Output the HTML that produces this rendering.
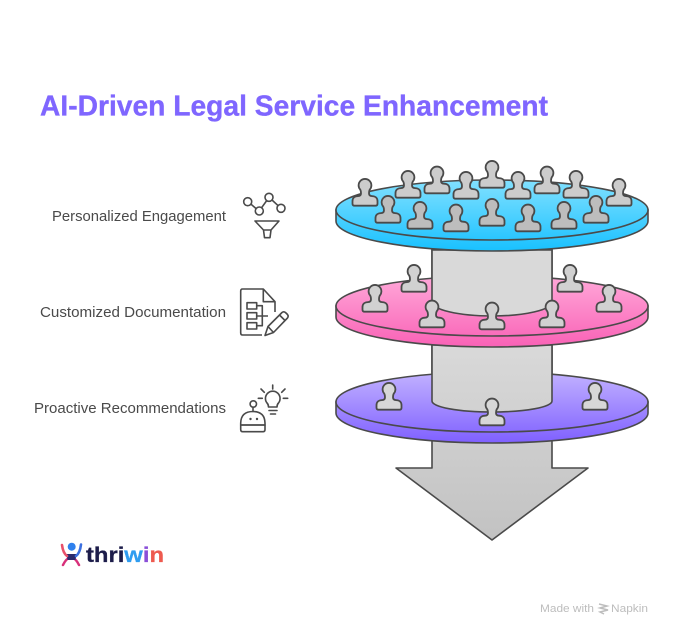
<!DOCTYPE html>
<html><head><meta charset="utf-8"><style>
html,body{margin:0;padding:0;background:#fff}
svg{display:block}
text{font-family:"Liberation Sans",sans-serif}
</style></head><body>
<svg width="673" height="636" viewBox="0 0 673 636" xmlns="http://www.w3.org/2000/svg">
<defs>
<linearGradient id="blue" gradientUnits="userSpaceOnUse" x1="0" y1="181" x2="0" y2="251"><stop offset="0" stop-color="#80e0ff"/><stop offset="1" stop-color="#19c1ff"/></linearGradient>
<linearGradient id="pink" gradientUnits="userSpaceOnUse" x1="0" y1="276" x2="0" y2="347"><stop offset="0" stop-color="#ffa8d9"/><stop offset="1" stop-color="#f962b6"/></linearGradient>
<linearGradient id="purple" gradientUnits="userSpaceOnUse" x1="0" y1="372" x2="0" y2="443"><stop offset="0" stop-color="#c2b2ff"/><stop offset="1" stop-color="#7f60ff"/></linearGradient>
<linearGradient id="grey" gradientUnits="userSpaceOnUse" x1="0" y1="345" x2="0" y2="540"><stop offset="0" stop-color="#d9d9d9"/><stop offset="1" stop-color="#c2c2c2"/></linearGradient>
<path id="p" d="M-10.5 0H10.5Q12.5 0 12.5-2V-4.5C12.5-8 10-9.6 7-9.6C5-9.6 4-10.6 4-12.4Q4-14.6 4.7-16A6.4 6.4 0 1 0-4.7-16Q-4-14.6-4-12.4C-4-10.6-5-9.6-7-9.6C-10-9.6-12.5-8-12.5-4.5V-2Q-12.5 0-10.5 0Z"/>
</defs>

<text x="40" y="115.5" font-size="29" font-weight="700" fill="#7f66ff" stroke="#7f66ff" stroke-width="0.35" textLength="508" lengthAdjust="spacingAndGlyphs">AI-Driven Legal Service Enhancement</text>

<g font-size="14.5" fill="#4a4a4a">
<text x="52" y="221" textLength="174" lengthAdjust="spacingAndGlyphs">Personalized Engagement</text>
<text x="40" y="317" textLength="186" lengthAdjust="spacingAndGlyphs">Customized Documentation</text>
<text x="34" y="413" textLength="192" lengthAdjust="spacingAndGlyphs">Proactive Recommendations</text>
</g>

<!-- arrow shaft and head -->
<path d="M432 240V468H396L492 540L588 468H552V240Z" fill="url(#grey)" stroke="#4a4a4a" stroke-width="1.6" stroke-linejoin="round"/>

<g stroke="#4a4a4a" stroke-width="1.6">
<!-- purple disk -->
<path d="M336 402V413A156 30 0 0 0 648 413V402Z" fill="url(#purple)"/>
<ellipse cx="492" cy="402" rx="156" ry="30" fill="url(#purple)"/>
<path d="M432 345V401A60 11 0 0 0 552 401V345Z" fill="url(#grey)"/>
<!-- pink disk -->
<path d="M336 306V317A156 30 0 0 0 648 317V306Z" fill="url(#pink)"/>
<ellipse cx="492" cy="306" rx="156" ry="30" fill="url(#pink)"/>
<path d="M432 250V302A60 14 0 0 0 552 302V250Z" fill="#d9d9d9"/>
<!-- blue disk -->
<path d="M336 210V221A156 30 0 0 0 648 221V210Z" fill="url(#blue)"/>
<ellipse cx="492" cy="210" rx="156" ry="30" fill="url(#blue)"/>
</g>

<!-- people -->
<g stroke="#4a4a4a" stroke-width="1.8" stroke-linejoin="round">
<g fill="#cccccc">
<use href="#p" x="365" y="205.7"/><use href="#p" x="408" y="197.7"/><use href="#p" x="437" y="193.3"/><use href="#p" x="466" y="198.7"/><use href="#p" x="492" y="187.7"/><use href="#p" x="518" y="198.7"/><use href="#p" x="547" y="193.3"/><use href="#p" x="576" y="197.7"/><use href="#p" x="619" y="205.7"/>
</g>
<g fill="#bdbdbd">
<use href="#p" x="388" y="222.7"/><use href="#p" x="420" y="228.7"/><use href="#p" x="456" y="231.3"/><use href="#p" x="492" y="225.7"/><use href="#p" x="528" y="231.3"/><use href="#p" x="564" y="228.7"/><use href="#p" x="596" y="222.7"/>
</g>
<g fill="#d1d1d1">
<use href="#p" x="375" y="311.7"/><use href="#p" x="414" y="291.7"/><use href="#p" x="432" y="327.3"/><use href="#p" x="492" y="329.3"/><use href="#p" x="552" y="327.3"/><use href="#p" x="570" y="291.7"/><use href="#p" x="609" y="311.7"/>
</g>
<g fill="#d7d7d7">
<use href="#p" x="389" y="409.7"/><use href="#p" x="492" y="425.3"/><use href="#p" x="595" y="409.7"/>
</g>
</g>

<!-- icon 1 -->
<g fill="none" stroke="#4a4a4a" stroke-width="1.6" stroke-linejoin="round">
<circle cx="247.7" cy="201.7" r="4"/><circle cx="259.3" cy="211" r="4"/><circle cx="269" cy="197.3" r="4"/><circle cx="281" cy="208.3" r="4"/>
<path d="M251 204.2L256 208.5M261.6 207.7L266.7 200.6M272 200L278 205.6"/>
<path d="M255 221H279L271 230L270 237.7H264.5L263.5 230ZM263.5 230H271"/>
</g>
<!-- icon 2 -->
<g fill="none" stroke="#4a4a4a" stroke-width="1.6" stroke-linejoin="round">
<path d="M262 335H242.5Q240.7 335 240.7 333V291Q240.7 289 242.5 289H263.3L275 301.7V312"/>
<path d="M263.3 289V301.7H275"/>
<rect x="247" y="302.7" width="9.7" height="6.3"/><rect x="247" y="312.7" width="9.7" height="6.3"/><rect x="247" y="322.7" width="9.7" height="6.3"/>
<path d="M256.7 305.7H262.3V325.7H256.7M256.7 316H268"/>
<path d="M265 335.5L268 326.5L282 312.5Q284 311 286 313L287.5 314.5Q289 316.5 287 318.5L273.5 332.5ZM268 326.5L273.5 332.5M279.5 315L285 320.5"/>
</g>
<!-- icon 3 -->
<g fill="none" stroke="#4a4a4a" stroke-width="1.6" stroke-linejoin="round" stroke-linecap="round">
<path d="M268.5 407Q268.5 404.5 267 403A7.3 7.3 0 1 1 278.5 403Q277 404.5 277 407Z"/>
<path d="M269 410.5H277M270.5 414H275.5M272.7 385V389M261 389L264.3 392.3M285 389L281.7 392.3M258.3 398.3H262.3M283.3 398.3H287.7"/>
<circle cx="253.3" cy="404" r="3.2"/>
<path d="M253 407.2V411.5"/>
<path d="M240.7 425V423Q241 411.5 253 411.5Q264.7 411.5 265 423V425Z"/>
<path d="M240.7 425H265V429.5Q265 431.7 263 431.7H242.7Q240.7 431.7 240.7 429.5Z"/>
</g>
<circle cx="250.5" cy="419" r="1.2" fill="#4a4a4a"/><circle cx="257" cy="419" r="1.2" fill="#4a4a4a"/>

<!-- logo -->
<path d="M63 565Q66 559 69 558M79 565Q76 559 73 558" fill="none" stroke="#d8307a" stroke-width="2.5" stroke-linecap="round"/>
<path d="M66.5 554H76.5L75.5 560H67.5Z" fill="#2a2a6e"/>
<path d="M62 545Q63 553 67 556" fill="none" stroke="#e8506a" stroke-width="2.6" stroke-linecap="round"/>
<path d="M81 544.5Q80 553 76 556" fill="none" stroke="#3b6fe0" stroke-width="2.6" stroke-linecap="round"/>
<circle cx="71.7" cy="546.7" r="4" fill="#2f80ed"/>
<text x="86" y="562" font-size="21" font-weight="700" stroke-width="0.3" textLength="78" lengthAdjust="spacingAndGlyphs"><tspan fill="#1c1c4a" stroke="#1c1c4a">thri</tspan><tspan fill="#2f9cf0" stroke="#2f9cf0">w</tspan><tspan fill="#8a4fd8" stroke="#8a4fd8">i</tspan><tspan fill="#ee5a4f" stroke="#ee5a4f">n</tspan></text>

<!-- watermark -->
<text x="540" y="612" font-size="11" fill="#bdbdbd" textLength="54" lengthAdjust="spacingAndGlyphs">Made with</text>
<path d="M599 604L607 606L600 608L608 610L600 612L604 614" fill="none" stroke="#bdbdbd" stroke-width="1.5"/>
<text x="611" y="612" font-size="11" fill="#bdbdbd" textLength="37" lengthAdjust="spacingAndGlyphs">Napkin</text>
</svg>
</body></html>
